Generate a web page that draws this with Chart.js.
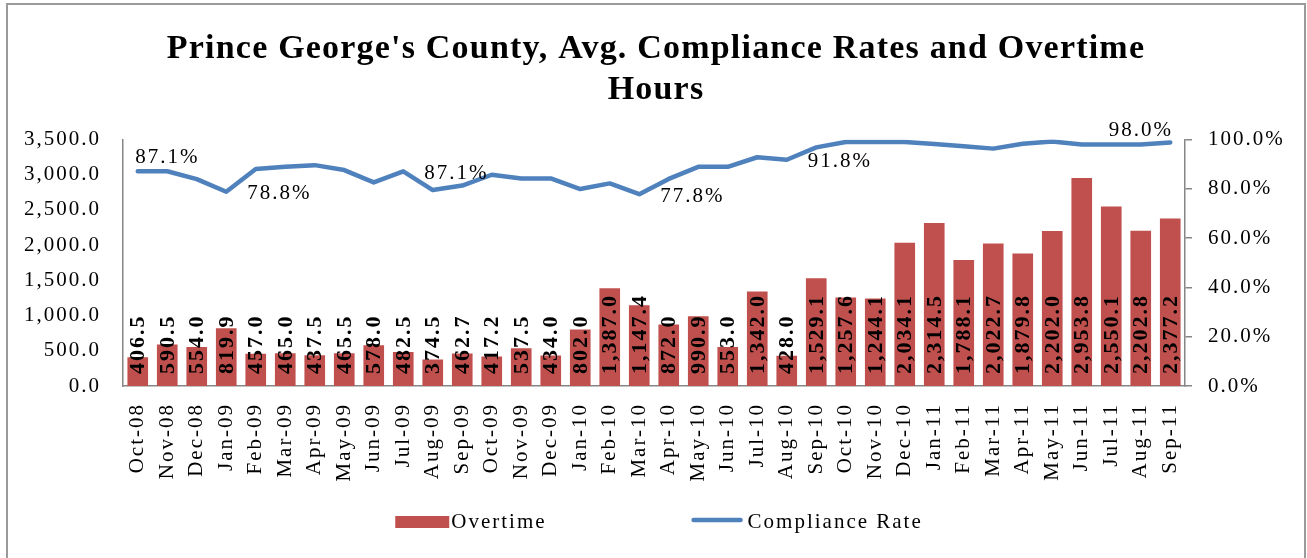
<!DOCTYPE html>
<html>
<head>
<meta charset="utf-8">
<script src="https://cdn.jsdelivr.net/npm/chart.js@4/dist/chart.umd.min.js"></script>
<style>
html,body{margin:0;padding:0;background:#fff;}
#wrap{width:1307px;height:558px;position:relative;}
</style>
</head>
<body>
<div id="wrap"><canvas id="c" width="1307" height="558"></canvas></div>
<script>
// ---- data ----
const categories = ['Oct-08','Nov-08','Dec-08','Jan-09','Feb-09','Mar-09','Apr-09','May-09','Jun-09','Jul-09','Aug-09','Sep-09',
  'Oct-09','Nov-09','Dec-09','Jan-10','Feb-10','Mar-10','Apr-10','May-10','Jun-10','Jul-10','Aug-10','Sep-10',
  'Oct-10','Nov-10','Dec-10','Jan-11','Feb-11','Mar-11','Apr-11','May-11','Jun-11','Jul-11','Aug-11','Sep-11'];
const overtime = [406.5, 590.5, 554.0, 819.9, 457.0, 465.0, 437.5, 465.5, 578.0, 482.5, 374.5, 462.7,
  417.2, 537.5, 434.0, 802.0, 1387.0, 1147.4, 872.0, 990.9, 553.0, 1342.0, 428.0, 1529.1,
  1257.6, 1244.1, 2034.1, 2314.5, 1788.1, 2022.7, 1879.8, 2202.0, 2953.8, 2550.1, 2202.8, 2377.2];
const compliance = [87.1, 87.1, 83.9, 78.8, 88.0, 88.9, 89.6, 87.6, 82.6, 87.1, 79.5, 81.3,
  85.7, 84.2, 84.2, 79.9, 82.2, 77.8, 84.0, 88.9, 88.9, 92.8, 91.8, 96.8,
  99.0, 99.0, 99.0, 98.2, 97.3, 96.3, 98.3, 99.2, 98.0, 98.0, 98.0, 98.8];
const leftTicks = [0, 500, 1000, 1500, 2000, 2500, 3000, 3500];
const rightTicks = [0, 20, 40, 60, 80, 100];
const labelledPoints = [1, 3, 9, 17, 22, 34];
const labelSides = ['above', 'right', 'right', 'right', 'right', 'above'];
const titleLines = ["Prince George's County, Avg. Compliance Rates and Overtime", 'Hours'];
const seriesNames = ['Overtime', 'Compliance Rate'];

// ---- style ----
const FONT = '"Liberation Serif", "Times New Roman", serif';
const BAR_COLOR = '#C0504D';
const LINE_COLOR = '#4F81BD';
const AXIS_COLOR = '#868686';
const SPACING = '2px';

const fmt1 = v => Number(v).toLocaleString('en-US', {minimumFractionDigits: 1, maximumFractionDigits: 1});

const spacingPlugin = {
  id: 'spacing',
  beforeInit(chart) { chart.ctx.letterSpacing = SPACING; },
  beforeUpdate(chart) { chart.ctx.letterSpacing = SPACING; },
  beforeLayout(chart) { chart.ctx.letterSpacing = SPACING; },
  beforeDraw(chart) {
    const ctx = chart.ctx;
    ctx.letterSpacing = SPACING;
    ctx.save();
    ctx.fillStyle = '#fff';
    ctx.fillRect(0, 0, chart.width, chart.height);
    ctx.strokeStyle = '#9a9a9a';
    ctx.lineWidth = 2;
    ctx.strokeRect(7, 4, 1298, 620);
    ctx.restore();
  }
};

const labelsPlugin = {
  id: 'valueLabels',
  afterDatasetsDraw(chart) {
    const ctx = chart.ctx;
    ctx.save();
    ctx.letterSpacing = SPACING;
    // bar labels, rotated, inside base
    const barMeta = chart.getDatasetMeta(0);
    ctx.fillStyle = '#000';
    ctx.font = 'bold 22px ' + FONT;
    ctx.textAlign = 'left';
    ctx.textBaseline = 'middle';
    barMeta.data.forEach((bar, i) => {
      ctx.save();
      ctx.translate(bar.x, bar.base - 12);
      ctx.rotate(-Math.PI / 2);
      ctx.fillText(fmt1(overtime[i]), 0, 1);
      ctx.restore();
    });
    // line labels
    const lineMeta = chart.getDatasetMeta(1);
    ctx.font = '21px ' + FONT;
    labelledPoints.forEach((idx, k) => {
      const p = lineMeta.data[idx];
      const txt = compliance[idx].toFixed(1) + '%';
      if (labelSides[k] === 'right') {
        ctx.textAlign = 'left';
        ctx.fillText(txt, p.x + 21, p.y + 2);
      } else {
        ctx.textAlign = 'center';
        ctx.fillText(txt, p.x, p.y - 14);
      }
    });
    ctx.restore();
  },
  afterDraw(chart) {
    const ctx = chart.ctx;
    const ca = chart.chartArea;
    // title
    ctx.save();
    ctx.letterSpacing = '1.2px';
    ctx.font = 'bold 34px ' + FONT;
    ctx.fillStyle = '#000';
    ctx.textAlign = 'center';
    ctx.textBaseline = 'alphabetic';
    const cx = (ca.left + ca.right) / 2 + 2;
    titleLines.forEach((line, i) => ctx.fillText(line, cx, 58 + i * 41));
    ctx.restore();
    // legend
    ctx.save();
    ctx.letterSpacing = SPACING;
    ctx.font = '21px ' + FONT;
    ctx.textBaseline = 'middle';
    ctx.textAlign = 'left';
    const y = 522;
    const w1 = ctx.measureText(seriesNames[0]).width;
    const w2 = ctx.measureText(seriesNames[1]).width;
    const box = 54, gap1 = 2, mid = 145, lineW = 51, gap2 = 5;
    const total = box + gap1 + w1 + mid + lineW + gap2 + w2;
    let x = (ca.left + ca.right) / 2 + 5 - total / 2;
    ctx.fillStyle = BAR_COLOR;
    ctx.fillRect(x, y - 6, box, 12);
    x += box + gap1;
    ctx.fillStyle = '#000';
    ctx.fillText(seriesNames[0], x, y);
    x += w1 + mid;
    ctx.strokeStyle = LINE_COLOR;
    ctx.lineWidth = 4.5;
    ctx.lineCap = 'round';
    ctx.beginPath();
    ctx.moveTo(x + 2, y - 2);
    ctx.lineTo(x + lineW - 2, y - 2);
    ctx.stroke();
    x += lineW + gap2;
    ctx.fillText(seriesNames[1], x, y);
    ctx.restore();
  }
};

new Chart(document.getElementById('c'), {
  data: {
    labels: categories,
    datasets: [
      {
        type: 'bar',
        label: seriesNames[0],
        data: overtime,
        backgroundColor: BAR_COLOR,
        borderWidth: 0,
        yAxisID: 'y',
        categoryPercentage: 1.0,
        barPercentage: 0.7,
        order: 2
      },
      {
        type: 'line',
        label: seriesNames[1],
        data: compliance,
        borderColor: LINE_COLOR,
        backgroundColor: LINE_COLOR,
        borderWidth: 4.5,
        pointRadius: 0,
        tension: 0,
        borderCapStyle: 'round',
        borderJoinStyle: 'round',
        yAxisID: 'y1',
        order: 1
      }
    ]
  },
  options: {
    responsive: false,
    animation: false,
    devicePixelRatio: 1,
    layout: {padding: {left: 0, right: 0, top: 139.5, bottom: 0}},
    plugins: {
      legend: {display: false},
      tooltip: {enabled: false},
      title: {display: false}
    },
    scales: {
      x: {
        type: 'category',
        offset: true,
        grid: {display: false, drawTicks: false},
        border: {display: true, color: AXIS_COLOR, width: 1.5},
        ticks: {
          color: '#000',
          font: {family: FONT, size: 21},
          minRotation: 90,
          maxRotation: 90,
          autoSkip: false,
          padding: 17
        },
        afterFit(scale) { scale.height = 172; }
      },
      y: {
        position: 'left',
        min: 0,
        max: 3500,
        afterBuildTicks(scale) { scale.ticks = leftTicks.map(v => ({value: v})); },
        grid: {display: false, drawTicks: false},
        border: {display: true, color: AXIS_COLOR, width: 1.5},
        ticks: {
          color: '#000',
          font: {family: FONT, size: 21},
          padding: 22,
          callback: v => fmt1(v)
        },
        afterFit(scale) { scale.width = 123; }
      },
      y1: {
        position: 'right',
        min: 0,
        max: 100,
        afterBuildTicks(scale) { scale.ticks = rightTicks.map(v => ({value: v})); },
        grid: {display: true, drawOnChartArea: false, drawTicks: true, tickLength: 7, color: AXIS_COLOR, lineWidth: 1.5},
        border: {display: true, color: AXIS_COLOR, width: 1.5},
        ticks: {
          color: '#000',
          font: {family: FONT, size: 21},
          padding: 16,
          callback: v => Number(v).toFixed(1) + '%'
        },
        afterFit(scale) { scale.width = 1307 - 1185; }
      }
    }
  },
  plugins: [spacingPlugin, labelsPlugin]
});
</script>
</body>
</html>
